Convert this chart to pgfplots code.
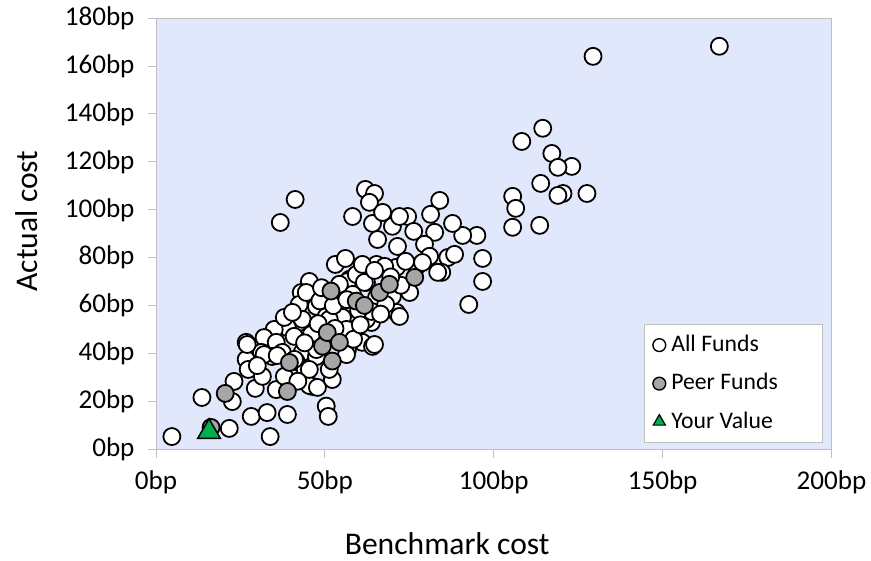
\documentclass[border=0pt]{standalone}
\usepackage{fontspec}
\setmainfont{Carlito}
\usepackage{pgfplots}
\pgfplotsset{compat=1.18}
\definecolor{plotbg}{RGB}{225,232,251}
\definecolor{framegray}{RGB}{191,191,191}
\definecolor{peergray}{RGB}{166,166,166}
\definecolor{yourgreen}{RGB}{0,176,80}
\pgfplotsset{
  circlegend/.style={legend image code/.code={\path[draw=none,fill=none] (-7bp,0) -- (10bp,0);\draw[##1, mark size=6.4bp, line width=1.4bp] plot coordinates {(0bp,0bp)};}},
  trilegend/.style={legend image code/.code={\path[draw=none,fill=none] (-7bp,0) -- (10bp,0);\draw[##1, mark size=7bp, line width=1.2bp] plot coordinates {(0bp,0.5bp)};}},
}
\begin{document}
\begin{tikzpicture}
\path[use as bounding box] (-156bp,-111.5bp) rectangle (715bp,449.5bp);
\begin{axis}[
  at={(0,0)}, anchor=south west,
  scale only axis,
  width=675.5bp, height=431.5bp,
  xmin=0, xmax=200, ymin=0, ymax=180,
  xtick={0,50,100,150,200},
  xticklabels={0bp,50bp,100bp,150bp,200bp},
  ytick={0,20,40,60,80,100,120,140,160,180},
  yticklabels={0bp,20bp,40bp,60bp,80bp,100bp,120bp,140bp,160bp,180bp},
  tick align=outside, major tick length=8bp,
  tick style={framegray, line width=0.8bp},
  xtick pos=bottom, ytick pos=left,
  axis line style={framegray, line width=0.8bp},
  axis background/.style={fill=plotbg},
  tick label style={font=\fontsize{27.2}{30}\selectfont, text=black},
  x tick label style={anchor=north, yshift=-10bp},
  y tick label style={anchor=east, xshift=-10bp},
  xlabel={Benchmark cost}, ylabel={Actual cost},
  label style={font=\fontsize{31.7}{36}\selectfont},
  xlabel style={at={(axis description cs:0.431,-0.218)}, anchor=center},
  ylabel style={at={(axis description cs:-0.191,0.5296)}, anchor=center},
  legend cell align=left,
  legend style={at={(axis description cs:0.987,0.015)}, anchor=south east,
    draw=framegray, fill=white, line width=0.8bp,
    font=\fontsize{23.8}{26}\selectfont,
    nodes={inner ysep=0pt, text height=17bp, text depth=5bp},
    row sep=16.5bp, inner xsep=8bp, inner ysep=9.5bp},
  clip=false,
]
\addplot[only marks, mark=*, mark size=8.5bp, line width=1.8bp,
  mark options={draw=black, fill=white}, circlegend]
coordinates {
(166.8,168.2)(129.4,164.0)(114.5,134.0)(108.3,128.5)(117.2,123.5)(123.1,118.1)
(119.0,117.7)(113.9,111.0)(120.5,106.8)(119.0,106.0)(127.6,106.8)(105.6,105.6)
(106.5,100.6)(105.6,92.7)(113.6,93.5)(96.7,79.7)(96.7,70.1)(92.6,60.5)
(95.0,89.3)(90.8,89.3)(87.8,94.3)(84.0,103.9)(81.3,98.1)(74.5,97.2)
(70.0,93.1)(76.3,91.0)(82.5,90.6)(86.4,80.1)(88.4,81.4)(71.5,84.7)
(84.6,73.9)(62.0,108.5)(64.7,106.8)(63.2,103.1)(58.2,97.2)(64.1,94.3)
(67.1,98.9)(72.1,97.2)(65.6,87.6)(79.5,85.6)(81.0,80.6)(53.1,77.2)
(56.1,79.7)(62.3,74.3)(65.3,77.2)(71.2,76.0)(77.2,76.4)(83.4,73.9)
(57.3,71.0)(62.3,69.7)(73.9,78.5)(78.9,78.0)(36.8,94.7)(41.2,104.3)
(45.4,70.1)(43.0,65.5)(42.4,60.5)(47.5,59.7)(56.7,70.1)(59.3,73.0)
(61.7,69.7)(67.7,76.4)(65.3,63.4)(71.2,57.2)(63.8,53.0)(57.3,50.1)
(50.4,55.5)(54.3,55.1)(42.4,53.0)(38.9,50.9)(35.0,50.1)(32.0,46.7)
(35.6,44.7)(40.9,47.2)(46.0,48.0)(26.7,44.7)(31.2,40.5)(34.4,38.8)
(37.4,40.5)(43.3,40.5)(47.5,38.8)(56.7,41.7)(61.1,44.7)(64.1,43.0)
(26.7,37.6)(4.7,5.4)(13.6,21.7)(21.7,8.8)(33.8,5.4)(28.2,13.8)
(32.9,15.4)(38.9,14.6)(22.6,20.0)(23.1,28.4)(27.3,33.4)(29.4,25.5)
(31.5,30.5)(35.6,25.0)(27.0,43.8)(32.0,39.6)(35.9,39.2)(41.5,36.7)
(44.5,32.1)(46.3,26.3)(47.5,41.7)(50.4,18.1)(51.0,13.8)(57.0,48.8)
(55.2,55.1)(44.2,33.4)(41.0,37.6)(45.4,26.7)(47.8,25.9)(52.2,29.2)
(61.1,77.2)(64.7,74.7)(44.5,65.5)(43.3,54.3)(51.3,54.3)(56.4,50.1)
(62.3,54.3)(63.8,57.6)(64.7,43.8)(72.1,55.5)(70.0,63.9)(75.1,65.5)
(58.2,64.7)(54.3,68.9)(51.3,33.4)(45.4,33.4)(56.4,39.6)(38.0,55.1)
(40.4,57.2)(48.5,62.0)(52.5,60.0)(68.0,60.5)(60.0,58.0)(49.0,67.5)
(30.0,35.0)(38.0,30.5)(42.0,28.5)(44.0,44.5)(53.0,50.5)(48.0,52.5)
(58.5,46.0)(60.5,52.0)(66.5,56.5)(72.5,68.5)(69.5,72.0)(56.5,62.5)
};
\addlegendentry{\makebox[141bp][l]{All Funds}}
\addplot[only marks, mark=*, mark size=8.5bp, line width=1.8bp,
  mark options={draw=black, fill=peergray}, circlegend]
coordinates {
(16.3,9.2)(20.5,23.4)(38.9,24.2)(39.5,36.3)(49.3,43.1)(50.7,48.8)
(54.3,44.7)(52.2,36.9)(51.8,66.1)(59.3,61.9)(61.7,60.1)(66.2,65.5)
(69.1,68.9)(76.6,71.8)
};
\addlegendentry{\makebox[141bp][l]{Peer Funds}}
\addplot[only marks, mark=triangle*, mark size=13bp, line width=1.5bp,
  mark options={draw=black, fill=yourgreen}, trilegend]
coordinates {(15.7,7.4)};
\addlegendentry{\makebox[141bp][l]{Your Value}}
\end{axis}
\end{tikzpicture}
\end{document}
